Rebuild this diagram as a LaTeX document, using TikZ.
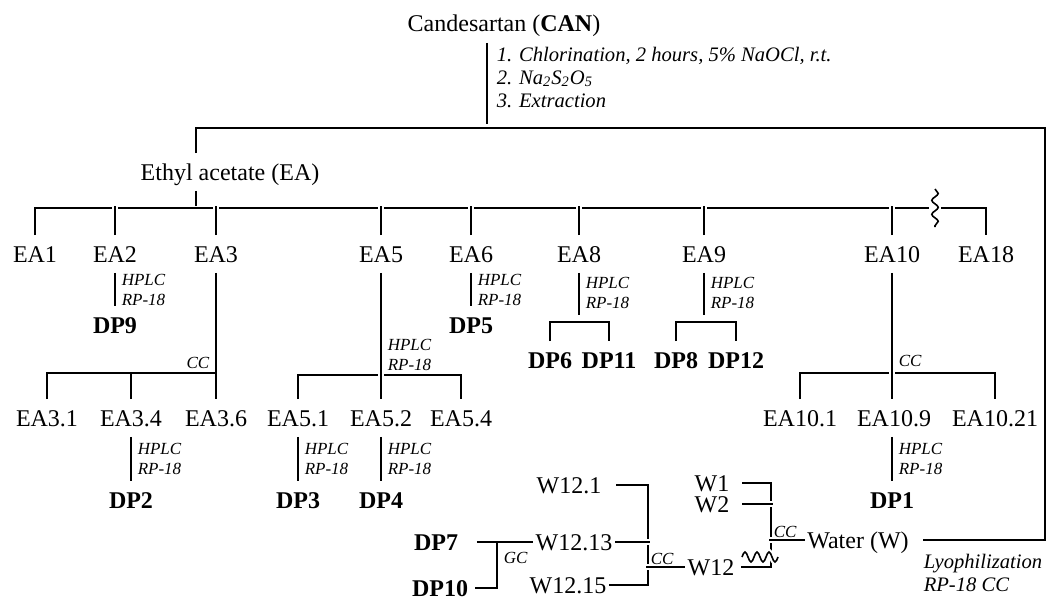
\documentclass[tikz,border=0pt]{standalone}
\usepackage{fontspec}
\setmainfont{Liberation Serif}
\usetikzlibrary{calc, decorations.pathmorphing}

\tikzset{
    frac/.style={font=\fontsize{12}{14}\selectfont, inner xsep=1pt, inner ysep=5pt, text height=8pt, text depth=0pt},
    prod/.style={frac, font=\bfseries\fontsize{12}{14}\selectfont},
    hplc/.style={font=\itshape\fontsize{8.5}{10}\selectfont, align=left, inner sep=0pt, anchor=west, xshift=3pt},
    meth/.style={font=\itshape\fontsize{8.5}{10}\selectfont, inner sep=0pt},
    note/.style={font=\itshape\fontsize{10.3}{11.5}\selectfont, align=left, inner sep=0pt},
    cross/.style={preaction={draw=white, line width=3pt}}
}

\begin{document}
\begin{tikzpicture}[x=0.5pt, y=-0.5pt, line width=0.8pt]
        \useasboundingbox (0,0) rectangle (1048,610);
        % Define row heights
        \def\earow{254}
        \def\subrow{418}
        \def\dprow{500}
        % Start compound and work-up
        \node[frac] (can) at (504,24) {Candesartan (\textbf{CAN})};
        \node[note, anchor=west] (work) at (496,77) {1. Chlorination, 2 hours, 5\% NaOCl, r.t.\\2. Na\textsubscript{2}S\textsubscript{2}O\textsubscript{5}\\3. Extraction};
        \coordinate (split) at (487,128);
        \coordinate (corner) at (1045,128);
        \draw[shorten >=2pt] (split |- can.south) -- (split);
        % Two phases
        \node[frac] (ethyl) at (230,172) {Ethyl acetate (EA)};
        \node[frac] (water) at (858,540) {Water (W)};
        \draw ([xshift=-17pt]ethyl.north) |- (corner) |- ([xshift=6pt]water.east);
        \node[note, anchor=north west] (lyo) at (923,553) {Lyophilization\\RP-18 CC};
        % Ethyl acetate fractions
        \foreach \n/\x/\t in {ea1/35/EA1, ea2/115/EA2, ea3/216/EA3, ea5/381/EA5, ea6/471/EA6, ea8/579/EA8, ea9/704/EA9, ea10/892/EA10, ea18/986/EA18}
            \node[frac] (\n) at (\x,\earow) {\t};
        \coordinate (bus) at (935,208);
        \coordinate (bustop) at (0,206);
        \draw (ea1.north) |- ([xshift=-3pt]bus);
        \draw ([xshift=3pt]bus) -| (ea18.north);
        \draw[decorate, decoration={snake, amplitude=1.6pt, segment length=7pt}] ([yshift=9.5pt]bus) -- ([yshift=-9.5pt]bus);
        \draw[cross] ([xshift=-17pt]ethyl.south) -- ([xshift=-17pt]ethyl.south |- bustop);
        \foreach \n in {ea2,ea3,ea5,ea6,ea8,ea9,ea10}
            \draw[cross] (\n.north) -- (\n.north |- bustop);
        % EA2 and EA6
        \node[prod] (dp9) at (115,325) {DP9};
        \draw (ea2.south) -- node[hplc] {HPLC\\RP-18} (dp9.north);
        \node[prod] (dp5) at (471,325) {DP5};
        \draw (ea6.south) -- node[hplc] {HPLC\\RP-18} (dp5.north);
        % EA3
        \node[frac] (ea31) at (47,\subrow) {EA3.1};
        \node[frac] (ea34) at (131,\subrow) {EA3.4};
        \node[frac] (ea36) at (216,\subrow) {EA3.6};
        \coordinate (bus3) at (216,373);
        \draw (ea3.south) -- node[meth, anchor=east, pos=0.71, xshift=-3pt] {CC} (ea36.north);
        \draw (ea31.north) |- (bus3);
        \draw (ea34.north) -- (ea34.north |- bus3);
        \node[prod] (dp2) at (131,\dprow) {DP2};
        \draw (ea34.south) -- node[hplc] {HPLC\\RP-18} (dp2.north);
        % EA5
        \node[frac] (ea51) at (298,\subrow) {EA5.1};
        \node[frac] (ea52) at (381,\subrow) {EA5.2};
        \node[frac] (ea54) at (461,\subrow) {EA5.4};
        \coordinate (bus5) at (381,375);
        \draw (ea51.north) |- (bus5) -| (ea54.north);
        \draw[cross] (ea5.south) -- node[hplc, pos=0.65] {HPLC\\RP-18} (ea52.north);
        \node[prod] (dp3) at (298,\dprow) {DP3};
        \node[prod] (dp4) at (381,\dprow) {DP4};
        \draw (ea51.south) -- node[hplc] {HPLC\\RP-18} (dp3.north);
        \draw (ea52.south) -- node[hplc] {HPLC\\RP-18} (dp4.north);
        % EA8 and EA9
        \node[prod] (dp6) at (550,360) {DP6};
        \node[prod] (dp11) at (609,360) {DP11};
        \coordinate (fork8) at (579,322);
        \draw[shorten >=3.5pt] (ea8.south) -- node[hplc, pos=0.4] {HPLC\\RP-18} (fork8);
        \draw (dp6.north) |- (fork8) -| (dp11.north);
        \node[prod] (dp8) at (676,360) {DP8};
        \node[prod] (dp12) at (736,360) {DP12};
        \coordinate (fork9) at (704,322);
        \draw[shorten >=3.5pt] (ea9.south) -- node[hplc, pos=0.4] {HPLC\\RP-18} (fork9);
        \draw (dp8.north) |- (fork9) -| (dp12.north);
        % EA10
        \node[frac] (ea101) at (800,\subrow) {EA10.1};
        \node[frac] (ea109) at (894,\subrow) {EA10.9};
        \node[frac] (ea1021) at (995,\subrow) {EA10.21};
        \coordinate (bus10) at (894,373);
        \draw (ea101.north) |- (bus10) -| (ea1021.north);
        \draw[cross] (ea10.south) -- node[meth, anchor=west, pos=0.7, xshift=3pt] {CC} (ea10.south |- ea109.north);
        \node[prod] (dp1) at (892,\dprow) {DP1};
        \draw (dp1.north |- ea109.south) -- node[hplc] {HPLC\\RP-18} (dp1.north);
        % Water fractions
        \node[frac] (w1) at (712,483) {W1};
        \node[frac] (w2) at (712,504) {W2};
        \node[frac] (w12) at (711,567) {W12};
        \coordinate (wbus) at (771,0);
        \draw[shorten <=5pt, shorten >=2pt] (w1.east) -| (wbus |- w12.east) -- (w12.east);
        \draw[cross, shorten <=5pt] (w2.east) -- ($(w2.east -| wbus)+(2,0)$);
        \draw[cross] (water.west) -- ($(water.west -| wbus)+(-2,0)$) node[meth, pos=1, anchor=south west, xshift=2pt, yshift=1pt] {CC};
        \draw[cross] ($(wbus |- w12.east)+(-29,-10)$) \foreach \i in {1,2,3} {sin ++(3,-5) cos ++(3,5) sin ++(3,5) cos ++(3,-5)};
        % W12
        \node[frac] (w121) at (569,485) {W12.1};
        \node[frac] (w1213) at (574,542) {W12.13};
        \node[frac] (w1215) at (568,585) {W12.15};
        \coordinate (wbus2) at (648,0);
        \draw[shorten <=6pt] (w121.east) -| (wbus2 |- w1215.east) -- (w1215.east);
        \draw[cross] (w1213.east) -- ($(w1213.east -| wbus2)+(2,0)$);
        \draw[cross] (w12.west) -- ($(w12.west -| wbus2)+(-2,0)$) node[meth, pos=1, anchor=south west, xshift=2pt, yshift=1pt] {CC};
        % W12.13
        \node[prod] (dp7) at (436,542) {DP7};
        \node[prod] (dp10) at (440,588) {DP10};
        \coordinate (gc) at (497,542);
        \draw[shorten <=8pt] (dp7.east) -- (w1213.west);
        \draw[shorten >=2pt] (gc) |- node[meth, pos=0.17, anchor=west, xshift=3pt] {GC} (dp10.east);
    \end{tikzpicture}
\end{document}
